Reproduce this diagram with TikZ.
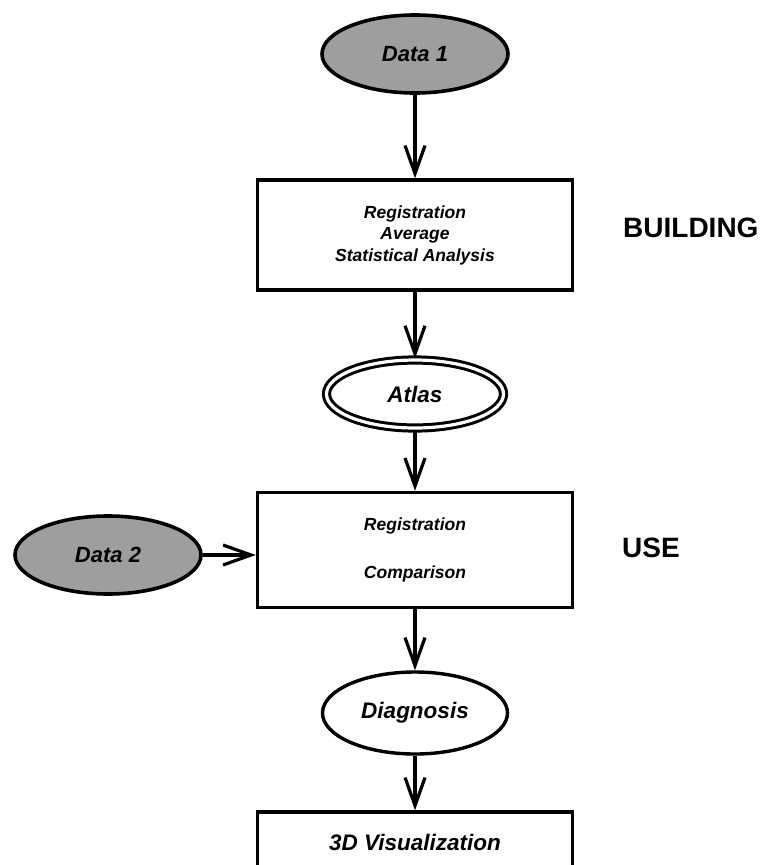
\documentclass[tikz,border=0pt]{standalone}
\usepackage{fontspec}
\setmainfont{Liberation Sans}
\usetikzlibrary{shapes, arrows.meta, positioning}
\tikzstyle{datum} = [ellipse, minimum width=186pt, minimum height=78pt, inner sep=0pt, text centered, draw=black, line width=3.6pt, fill=black!38, font=\fontsize{22}{26}\selectfont\bfseries\itshape]
\tikzstyle{result} = [ellipse, minimum width=185pt, minimum height=82pt, inner sep=0pt, text centered, draw=black, line width=3.4pt, font=\fontsize{22.5}{26}\selectfont\bfseries\itshape]
\tikzstyle{atlasnode} = [ellipse, minimum width=177pt, minimum height=68pt, inner sep=0pt, text centered, draw=black, double=white, double distance=3.2pt, line width=3pt, font=\fontsize{22.5}{26}\selectfont\bfseries\itshape]
\tikzstyle{process} = [rectangle, minimum width=315pt, minimum height=110pt, inner sep=0pt, align=center, draw=black, line width=3.4pt, font=\fontsize{17.5}{21.5}\selectfont\bfseries\itshape]
\tikzstyle{stagelabel} = [inner sep=0pt, font=\fontsize{28}{32}\selectfont\bfseries]
\tikzstyle{flow} = [line width=3.2pt, -{Straight Barb[length=28pt, width=20pt]}]

\begin{document}
\begin{tikzpicture}[x=1pt, y=1pt, node distance=160pt]
\useasboundingbox (0,0) rectangle (767,-865);
\node (data1) [datum] at (415,-54) {Data 1};
\node (build) [process, below of=data1, yshift=-21pt] {Registration\\Average\\Statistical Analysis};
\node (atlas) [atlasnode, below of=build, yshift=1pt] {Atlas};
\node (reguse) [process, minimum height=115pt, below of=atlas, yshift=4pt] {Registration\\[27pt]Comparison};
\node (data2) [datum, left of=reguse, xshift=-147pt, yshift=-5pt] {Data 2};
\node (diag) [result, below of=reguse, yshift=-3pt] {Diagnosis};
\node (visual) [process, minimum height=60pt, below of=diag, yshift=31pt, font=\fontsize{22.5}{26}\selectfont\bfseries\itshape] {3D Visualization};
\node (building) [stagelabel, right of=build, xshift=48pt, yshift=7pt, anchor=west] {BUILDING};
\node (use) [stagelabel, right of=reguse, xshift=47pt, yshift=2pt, anchor=west] {USE};
\draw [flow] (data1) -- (build);
\draw [flow] (build) -- (atlas);
\draw [flow] (atlas) -- (reguse);
\draw [flow] (data2.east) -- (data2.east -| reguse.west);
\draw [flow] (reguse) -- (diag);
\draw [flow] (diag) -- (visual);
\end{tikzpicture}
\end{document}
